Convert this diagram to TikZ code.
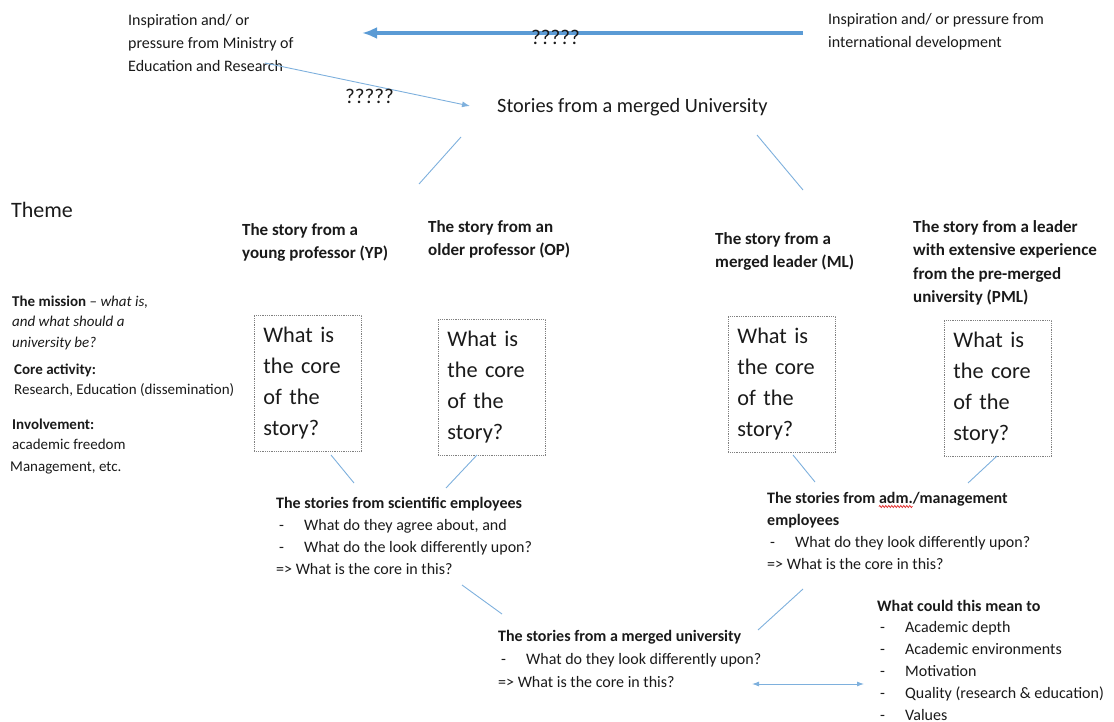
\documentclass[tikz,border=0pt]{standalone}
\usepackage{fontspec}
\setmainfont{Carlito}
\usetikzlibrary{arrows.meta,positioning,calc,decorations.pathmorphing}
\definecolor{Ink}{HTML}{1A1A1A}
\definecolor{LineBlue}{HTML}{7EB0DD}
\definecolor{ArrowBlue}{HTML}{5B9BD5}
\definecolor{Spell}{HTML}{E02020}
\newcommand{\dashitem}[1]{\makebox[28pt][l]{\hspace{3pt}-}#1}
\newlength{\admstart}
\newlength{\admwide}

\begin{document}
\settowidth{\admstart}{\bfseries\fontsize{16}{22}\selectfont The stories from }
\settowidth{\admwide}{\bfseries\fontsize{16}{22}\selectfont adm.}
\begin{tikzpicture}[x=1pt,y=-1pt,
    % multi-line texts are placed at the baseline of their last line
    txt/.style={anchor=base west, align=left, inner sep=0pt, text=Ink, font=\fontsize{16}{23}\selectfont},
    head/.style={txt, font=\bfseries\fontsize{17}{23.5}\selectfont},
    theme/.style={txt, font=\fontsize{15}{20.5}\selectfont},
    list/.style={txt, font=\fontsize{16}{22}\selectfont},
    corebox/.style={draw=gray, densely dotted, line width=0.8pt, anchor=north west, align=left, text width=89pt, inner xsep=9pt, inner ysep=0pt, minimum height=136pt, text=Ink, font=\fontsize{22.3}{31}\selectfont},
    link/.style={draw=LineBlue, line width=0.9pt},
    push/.style={-{Latex[length=15pt,width=12pt]}, draw=ArrowBlue, line width=3.5pt},
    spell/.style={draw=Spell, line width=0.7pt, decorate, decoration={snake, amplitude=1pt, segment length=3pt}}
  ]
    \useasboundingbox (0,0) rectangle (1114,722);

    % sources of pressure
    \node[txt] (ministry) at (128,72) {Inspiration and/ or\\pressure from Ministry of\\Education and Research};
    \node[txt] (intl) at (828,48) {Inspiration and/ or pressure from\\international development};
    \coordinate (intlOut) at (803,33);
    \coordinate (ministryIn) at (362,33);
    \draw[push] (intlOut) -- (ministryIn);
    \node[txt, font=\fontsize{21}{25}\selectfont] (qTop) at (531,45) {?????};

    \node[txt, font=\fontsize{20.3}{24}\selectfont] (merged) at (497,113) {Stories from a merged University};
    \coordinate (ministryOut) at (265,63);
    \coordinate (mergedIn) at (470,106);
    \draw[link, -{Latex[length=8pt,width=6pt]}] (ministryOut) -- (mergedIn);
    \node[txt, font=\fontsize{21}{25}\selectfont] (qLeft) at (345,104) {?????};

    \coordinate (mergedL) at (461,137);
    \coordinate (ypTop) at (419,184);
    \coordinate (mergedR) at (757,135);
    \coordinate (mlTop) at (803,190);
    \draw[link] (mergedL) -- (ypTop);
    \draw[link] (mergedR) -- (mlTop);

    % theme column
    \node[txt, font=\fontsize{22}{26}\selectfont] (theme) at (11,218) {Theme};
    \node[theme] (mission) at (12,347) {\textbf{The mission} -- \textit{what is,}\\\textit{and what should a}\\\textit{university be?}};
    \node[theme] (core) at (14,394.5) {\textbf{Core activity:}\\Research, Education (dissemination)};
    \node[theme] (involve) at (12,471) {\textbf{Involvement:}\\academic freedom\\[1pt]\hspace*{-2pt}Management, etc.};

    % the four stories
    \node[head] (ypHead) at (242,258.5) {The story from a\\young professor (YP)};
    \node[head] (opHead) at (428,255.5) {The story from an\\older professor (OP)};
    \node[head] (mlHead) at (715,267.5) {The story from a\\merged leader (ML)};
    \node[head] (pmlHead) at (913,302.5) {The story from a leader\\with extensive experience\\from the pre-merged\\university (PML)};

    \node[corebox] (ypBox) at (254,315) {What is\\the core\\of the\\story?};
    \node[corebox] (opBox) at (438,319) {What is\\the core\\of the\\story?};
    \node[corebox] (mlBox) at (728,316) {What is\\the core\\of the\\story?};
    \node[corebox] (pmlBox) at (944,320) {What is\\the core\\of the\\story?};

    % employee groups
    \node[list] (sci) at (276,574) {\textbf{The stories from scientific employees}\\\dashitem{What do they agree about, and}\\\dashitem{What do the look differently upon?}\\=> What is the core in this?};
    \node[list] (adm) at (767,569) {\textbf{The stories from adm./management}\\\textbf{employees}\\\dashitem{What do they look differently upon?}\\=> What is the core in this?};
    \draw[spell] ($(adm.base west)+(\admstart,62.5pt)$) -- ++(\admwide,0pt);

    \coordinate (ypLo) at (331,455);
    \coordinate (sciA) at (354,483);
    \coordinate (opLo) at (477,455);
    \coordinate (sciB) at (446,488);
    \coordinate (mlLo) at (793,455);
    \coordinate (admA) at (815,482);
    \coordinate (pmlLo) at (997,456);
    \coordinate (admB) at (968,483);
    \draw[link] (ypLo) -- (sciA);
    \draw[link] (opLo) -- (sciB);
    \draw[link] (mlLo) -- (admA);
    \draw[link] (pmlLo) -- (admB);

    % merged university
    \node[list, font=\fontsize{16}{23}\selectfont] (uni) at (498,687) {\textbf{The stories from a merged university}\\\dashitem{What do they look differently upon?}\\=> What is the core in this?};
    \coordinate (sciLo) at (462,585);
    \coordinate (uniA) at (502,614);
    \coordinate (admLo) at (803,589);
    \coordinate (uniB) at (758,630);
    \draw[link] (sciLo) -- (uniA);
    \draw[link] (admLo) -- (uniB);

    \node[list, font=\fontsize{16}{21.8}\selectfont] (meaning) at (877,720) {\textbf{What could this mean to}\\\dashitem{Academic depth}\\\dashitem{Academic environments}\\\dashitem{Motivation}\\\dashitem{Quality (research \& education)}\\\dashitem{Values}};
    \coordinate (uniOut) at (752,684);
    \coordinate (meaningIn) at (864,684);
    \draw[link, {Latex[length=7pt,width=5pt]}-{Latex[length=7pt,width=5pt]}] (uniOut) -- (meaningIn);
  \end{tikzpicture}
\end{document}
